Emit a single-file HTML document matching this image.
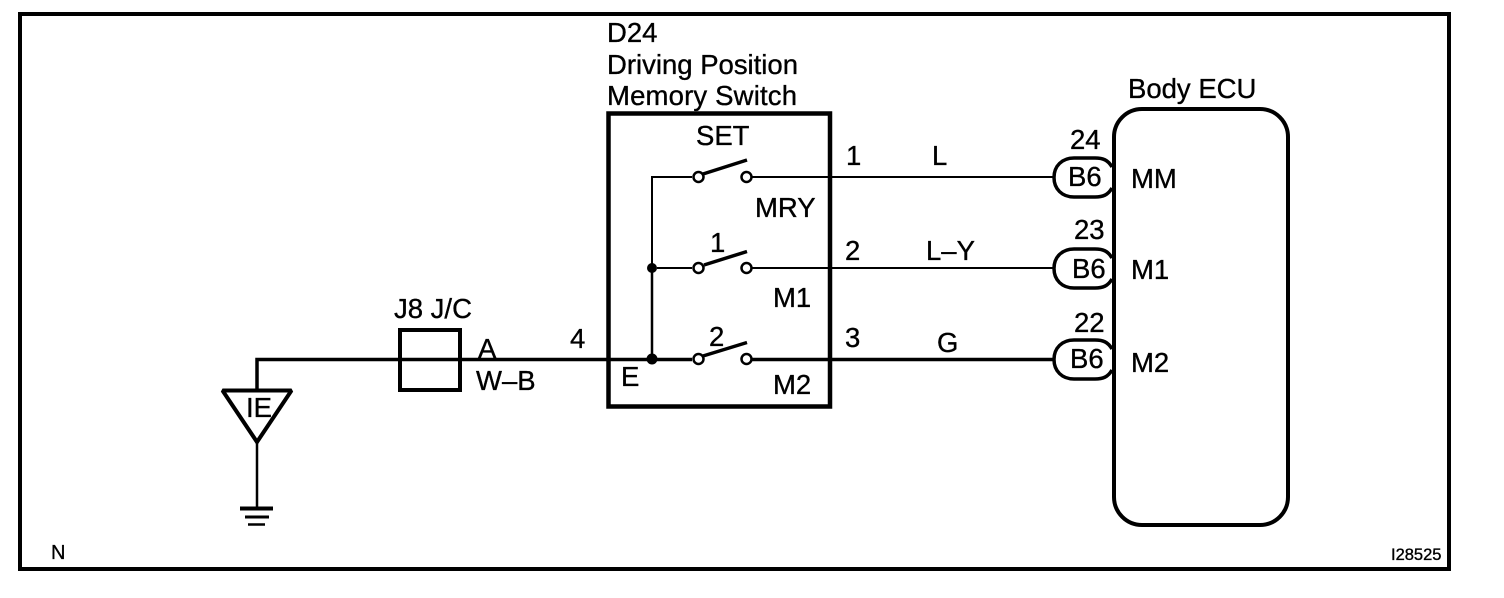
<!DOCTYPE html>
<html>
<head>
<meta charset="utf-8">
<style>
html,body{margin:0;padding:0;background:#fff;width:1504px;height:598px;overflow:hidden}
svg{display:block}
text{font-family:"Liberation Sans",Arial,sans-serif;font-size:27.5px;fill:#000;stroke:#000;stroke-width:.35px}
</style>
</head>
<body>
<svg width="1504" height="598" viewBox="0 0 1504 598" xmlns="http://www.w3.org/2000/svg">
<rect width="1504" height="598" fill="#fff"/>
<g fill="none" stroke="#000">
  <!-- frame -->
  <rect x="20" y="14" width="1429" height="555" stroke-width="4"/>
  <!-- wires -->
  <path d="M652 268V177H692M752 177H1053M657 268H692M752 268H1053" stroke-width="2"/>
  <path d="M652 359V268" stroke-width="2.5"/>
  <path d="M257 390V359.500H692M752 359.500H1053" stroke-width="3.500"/>
  <!-- switch box -->
  <rect x="608.500" y="113.500" width="221.500" height="293" stroke-width="4.500"/>
  <!-- junction block -->
  <rect x="400" y="330" width="60" height="60" stroke-width="4"/>
  <!-- ECU -->
  <rect x="1114" y="109" width="174" height="416" rx="28" ry="28" stroke-width="4"/>
  <!-- switch contacts -->
  <g stroke-width="2.500" fill="#fff">
    <circle cx="698.500" cy="177" r="5"/><circle cx="746.500" cy="177" r="5"/>
    <circle cx="698.500" cy="268" r="5"/><circle cx="746.500" cy="268" r="5"/>
    <circle cx="698.500" cy="359" r="5"/><circle cx="746.500" cy="359" r="5"/>
  </g>
  <!-- switch blades -->
  <g stroke-width="3.500">
    <path d="M703 174L747 160"/>
    <path d="M704 265L747 251.500"/>
    <path d="M703 356L747 342.500"/>
  </g>
  <!-- ground connector triangle and symbol -->
  <path d="M222.500 390.500H291.500L257 442Z" stroke-width="4" stroke-miterlimit="2" fill="#fff"/>
  <path d="M257 443V508" stroke-width="2.500"/>
  <path d="M240 508.500H273" stroke-width="4"/>
  <path d="M245 517H269" stroke-width="3"/>
  <path d="M248 524.500H265" stroke-width="2.500"/>
  <!-- connector pills -->
  <g stroke-width="3.500" fill="#fff">
    <path d="M1112 167C1108 160 1103 158 1095 158H1074C1062 158 1054 166 1054 177.500S1062 197 1074 197H1095C1103 197 1108 195 1112 188"/>
    <path d="M1112 258C1108 251 1103 249 1095 249H1074C1062 249 1054 257 1054 268.500S1062 288 1074 288H1095C1103 288 1108 286 1112 279"/>
    <path d="M1112 349C1108 342 1103 340 1095 340H1074C1062 340 1054 348 1054 359.500S1062 379 1074 379H1095C1103 379 1108 377 1112 370"/>
  </g>
  <!-- ECU edge over pills -->
  <path d="M1114 137V497" stroke-width="4"/>
  <!-- dots -->
  <circle cx="652" cy="268" r="5" fill="#000" stroke="none"/>
  <circle cx="652" cy="359" r="5.500" fill="#000" stroke="none"/>
</g>
<g>
  <text x="607" y="42">D24</text>
  <text x="607" y="74" textLength="191">Driving Position</text>
  <text x="607" y="105" textLength="190">Memory Switch</text>
  <text x="696" y="145">SET</text>
  <text x="755" y="217">MRY</text>
  <text x="710" y="252">1</text>
  <text x="773" y="307">M1</text>
  <text x="709" y="346">2</text>
  <text x="621" y="386">E</text>
  <text x="773" y="394">M2</text>
  <text x="846" y="165">1</text>
  <text x="932" y="165">L</text>
  <text x="845" y="260">2</text>
  <text x="926" y="260">L–Y</text>
  <text x="845" y="347">3</text>
  <text x="937" y="352">G</text>
  <text x="570" y="348">4</text>
  <text x="478" y="358">A</text>
  <text x="476" y="390">W–B</text>
  <text x="394" y="318">J8 J/C</text>
  <text x="246" y="417">IE</text>
  <text x="1128" y="98">Body ECU</text>
  <text x="1070" y="149">24</text>
  <text x="1068" y="186">B6</text>
  <text x="1131" y="188">MM</text>
  <text x="1074" y="239">23</text>
  <text x="1072" y="278">B6</text>
  <text x="1131" y="279">M1</text>
  <text x="1074" y="332">22</text>
  <text x="1070" y="368">B6</text>
  <text x="1131" y="372">M2</text>
  <text x="51" y="559" style="font-size:20px">N</text>
  <text x="1391" y="560" style="font-size:16.500px">I28525</text>
</g>
</svg>
</body>
</html>
